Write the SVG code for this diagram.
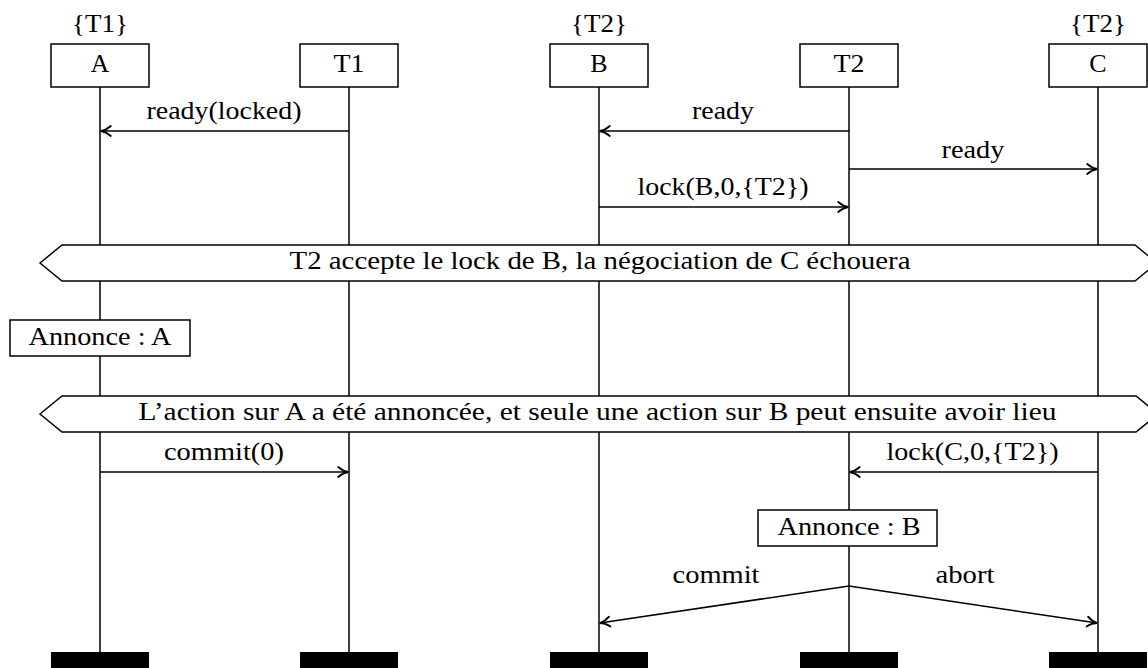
<svg xmlns="http://www.w3.org/2000/svg" width="1148" height="668" viewBox="0 0 1148 668">
<style>
  text { font-family: "Liberation Serif", "DejaVu Serif", serif; font-size: 26px; fill: #000; text-anchor: middle; }
  .box { fill: #fff; stroke: #000; stroke-width: 1.5; }
  .life { stroke: #000; stroke-width: 1.5; }
  .msg { stroke: #000; stroke-width: 1.5; fill: none; marker-end: url(#arr); }
  .bar { fill: #000; }
</style>
<defs>
  <marker id="arr" markerUnits="userSpaceOnUse" markerWidth="14" markerHeight="12" viewBox="-12 -6 14 12" refX="0" refY="0" orient="auto" overflow="visible">
    <path d="M -10,-5 C -6.5,-2 -3,-0.4 0,0 C -3,0.4 -6.5,2 -10,5" fill="none" stroke="#000" stroke-width="1.8" stroke-linecap="round"/>
  </marker>
</defs>
<rect x="0" y="0" width="1148" height="668" fill="#fff"/>

<g id="lifelines">
  <line class="life" x1="100" y1="87" x2="100" y2="652"/>
  <line class="life" x1="349" y1="87" x2="349" y2="652"/>
  <line class="life" x1="599" y1="87" x2="599" y2="652"/>
  <line class="life" x1="849" y1="87" x2="849" y2="652"/>
  <line class="life" x1="1098" y1="87" x2="1098" y2="652"/>
</g>

<g id="node-A">
  <text x="100" y="32" textLength="56" lengthAdjust="spacingAndGlyphs">{T1}</text>
  <rect class="box" x="51" y="44" width="98" height="43"/>
  <text x="100" y="72">A</text>
  <rect class="bar" x="51" y="652" width="98" height="16"/>
</g>
<g id="node-T1">
  <rect class="box" x="300" y="44" width="98" height="43"/>
  <text x="349" y="72" textLength="31" lengthAdjust="spacingAndGlyphs">T1</text>
  <rect class="bar" x="300" y="652" width="98" height="16"/>
</g>
<g id="node-B">
  <text x="599" y="32" textLength="56" lengthAdjust="spacingAndGlyphs">{T2}</text>
  <rect class="box" x="550" y="44" width="98" height="43"/>
  <text x="599" y="72">B</text>
  <rect class="bar" x="550" y="652" width="98" height="16"/>
</g>
<g id="node-T2">
  <rect class="box" x="800" y="44" width="98" height="43"/>
  <text x="849" y="72" textLength="31" lengthAdjust="spacingAndGlyphs">T2</text>
  <rect class="bar" x="800" y="652" width="98" height="16"/>
</g>
<g id="node-C">
  <text x="1098" y="32" textLength="56" lengthAdjust="spacingAndGlyphs">{T2}</text>
  <rect class="box" x="1049" y="44" width="98" height="43"/>
  <text x="1098" y="72">C</text>
  <rect class="bar" x="1049" y="652" width="98" height="16"/>
</g>

<g id="banner-1">
  <path class="box" d="M 40,263 L 62,245 L 1135,245 L 1157,263 L 1135,281 L 62,281 Z"/>
  <text x="600" y="269" textLength="621" lengthAdjust="spacingAndGlyphs">T2 accepte le lock de B, la négociation de C échouera</text>
</g>
<g id="annonce-A">
  <rect class="box" x="10" y="320" width="180" height="36"/>
  <text x="100" y="345" textLength="143" lengthAdjust="spacingAndGlyphs">Annonce : A</text>
</g>
<g id="banner-2">
  <path class="box" d="M 40,414 L 62,396 L 1136,396 L 1158,414 L 1136,432 L 62,432 Z"/>
  <text x="597.5" y="420" textLength="918" lengthAdjust="spacingAndGlyphs">L’action sur A a été annoncée, et seule une action sur B peut ensuite avoir lieu</text>
</g>
<g id="annonce-B">
  <rect class="box" x="758" y="510" width="179" height="36"/>
  <text x="849" y="535" textLength="143" lengthAdjust="spacingAndGlyphs">Annonce : B</text>
</g>

<g id="connectors">
  <line class="msg" x1="349" y1="131" x2="100.8" y2="131"/>
  <text x="224" y="119" textLength="155" lengthAdjust="spacingAndGlyphs">ready(locked)</text>

  <line class="msg" x1="849" y1="131" x2="599.8" y2="131"/>
  <text x="723" y="119" textLength="62" lengthAdjust="spacingAndGlyphs">ready</text>

  <line class="msg" x1="849" y1="169" x2="1097.2" y2="169"/>
  <text x="973" y="158" textLength="63" lengthAdjust="spacingAndGlyphs">ready</text>

  <line class="msg" x1="599" y1="207" x2="848.2" y2="207"/>
  <text x="723" y="195" textLength="171" lengthAdjust="spacingAndGlyphs">lock(B,0,{T2})</text>

  <line class="msg" x1="100" y1="472" x2="348.2" y2="472"/>
  <text x="224" y="460" textLength="120" lengthAdjust="spacingAndGlyphs">commit(0)</text>

  <line class="msg" x1="1098" y1="472" x2="849.8" y2="472"/>
  <text x="972.5" y="460" textLength="172" lengthAdjust="spacingAndGlyphs">lock(C,0,{T2})</text>

  <line class="msg" x1="849" y1="586" x2="599.8" y2="623"/>
  <text x="716" y="583" textLength="87" lengthAdjust="spacingAndGlyphs">commit</text>

  <line class="msg" x1="849" y1="586" x2="1097.2" y2="623"/>
  <text x="965" y="583" textLength="59" lengthAdjust="spacingAndGlyphs">abort</text>
</g>
</svg>
